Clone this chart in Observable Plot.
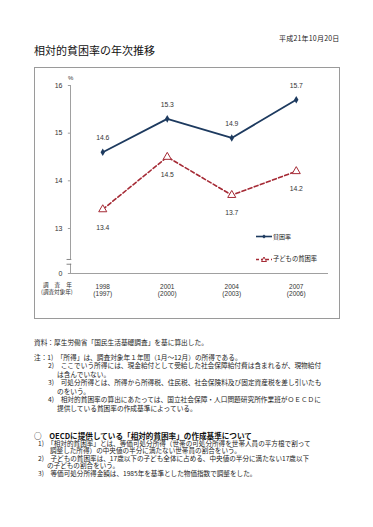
<!DOCTYPE html>
<html lang="ja">
<head>
<meta charset="utf-8">
<script src="https://cdn.jsdelivr.net/npm/d3@7"></script>
<script src="https://cdn.jsdelivr.net/npm/@observablehq/plot@0.6"></script>
<style>
  html, body { margin: 0; padding: 0; background: #fff; }
  #page { position: relative; width: 373px; height: 527px; overflow: hidden; background: #fff;
          font-family: "Noto Sans CJK JP", "Noto Sans", sans-serif; color: #222; }
  .t { position: absolute; white-space: nowrap; line-height: 1; }
  #box { position: absolute; left: 34px; top: 67px; width: 304px; height: 250px; border: 1px solid #9a9a9a; }
  #chart { position: absolute; left: 0; top: 0; }
  .blk { position: absolute; white-space: nowrap; }
  .blk .ind { display: inline-block; }
</style>
</head>
<body>
<div id="page">
  <div class="t" style="left:279px; top:35px; font-size:7px; letter-spacing:0.2px;">平成21年10月20日</div>
  <div class="t" style="left:34px; top:44.5px; font-size:11px; color:#111;">相対的貧困率の年次推移</div>

  <div id="box">
    <div id="chart"></div>
    <div class="t" style="left:33px; top:7px; font-size:6px; font-family:'Liberation Sans',sans-serif; color:#333;">%</div>
    <div class="blk" style="left:6px; top:214px; font-size:5.6px; line-height:7.3px; color:#333;"><span style="letter-spacing:6px; padding-left:2px;">調査年</span><br>(調査対象年)</div>
    <div class="t" id="leg1" style="left:221px; top:165px; font-size:6px; color:#222;">
      <svg width="17" height="7" style="vertical-align:middle;"><line x1="0" y1="3.5" x2="16" y2="3.5" stroke="#1d3a5f" stroke-width="1.6"/><path d="M8,1.5 L10,3.5 L8,5.5 L6,3.5Z" fill="#1d3a5f"/></svg><span style="vertical-align:middle;">貧困率</span>
    </div>
    <div class="t" id="leg2" style="left:221px; top:188px; font-size:6.3px; color:#222;">
      <svg width="17" height="7" style="vertical-align:middle;"><line x1="0" y1="3.5" x2="16" y2="3.5" stroke="#a52a35" stroke-width="1.6" stroke-dasharray="3,2"/><path d="M8,1 L10.5,5.5 L5.5,5.5Z" fill="#fff" stroke="#a52a35" stroke-width="1"/></svg><span style="vertical-align:middle;">子どもの貧困率</span>
    </div>
  </div>

  <div class="t" style="left:34px; top:339px; font-size:6.7px;">資料：厚生労働省「国民生活基礎調査」を基に算出した。</div>

  <div class="blk" style="left:34px; top:353px; font-size:6.7px; line-height:8.45px;">注：1)　「所得」は、調査対象年１年間（1月～12月）の所得である。<br><span class="ind" style="width:14px"></span>2)　ここでいう所得には、現金給付として受給した社会保障給付費は含まれるが、現物給付<br><span class="ind" style="width:23px"></span>は含んでいない。<br><span class="ind" style="width:14px"></span>3)　可処分所得とは、所得から所得税、住民税、社会保険料及び固定資産税を差し引いたも<br><span class="ind" style="width:23px"></span>のをいう。<br><span class="ind" style="width:14px"></span>4)　相対的貧困率の算出にあたっては、国立社会保障・人口問題研究所作業班がＯＥＣＤに<br><span class="ind" style="width:23px"></span>提供している貧困率の作成基準によっている。</div>

  <div class="t" style="left:34px; top:431.5px; font-size:7.6px; line-height:7.6px; font-weight:bold; color:#111;">○　OECDに提供している「相対的貧困率」の作成基準について</div>
  <div class="blk" style="left:38px; top:439.5px; font-size:6.6px; line-height:7.5px;">1)　「相対的貧困率」とは、等価可処分所得（世帯の可処分所得を世帯人員の平方根で割って<br><span class="ind" style="width:12px"></span>調整した所得）の中央値の半分に満たない世帯員の割合をいう。<br>2)　子どもの貧困率は、17歳以下の子ども全体に占める、中央値の半分に満たない17歳以下<br><span class="ind" style="width:9px"></span>の子どもの割合をいう。<br>3)　等価可処分所得金額は、1985年を基準とした物価指数で調整をした。</div>
</div>

<script>
// ---- data ----
const years = [1998, 2001, 2004, 2007];
const surveyYearLabels = ["1998", "2001", "2004", "2007"];
const targetYearLabels = ["(1997)", "(2000)", "(2003)", "(2006)"];
const povertyRate = [14.6, 15.3, 14.9, 15.7];
const childPovertyRate = [13.4, 14.5, 13.7, 14.2];
const yTicks = [0, 13, 14, 15, 16];

// ---- scale setup ----
const xDomain = [1996.5, 2008.5];
const yDomain = [0, 12.15, 16];
const yBreak = [12.25, 12.35];

const rows = years.map((year, i) => ({
  year,
  poverty: povertyRate[i],
  child: childPovertyRate[i],
  survey: surveyYearLabels[i],
  target: targetYearLabels[i]
}));

const navy = "#1d3a5f";
const red = "#a52a35";
const axisColor = "#a0a0a0";
const numFont = "'Liberation Sans', 'DejaVu Sans', sans-serif";

const chart = Plot.plot({
  width: 304,
  height: 250,
  marginLeft: 35,
  marginRight: 11,
  marginTop: 17,
  marginBottom: 45,
  style: { background: "transparent", fontFamily: numFont, overflow: "visible" },
  x: { type: "linear", domain: xDomain, range: [35, 293], axis: null },
  y: { type: "linear", domain: yDomain, range: [205, 200.5, 17], axis: null },
  marks: [
    // y axis line with break
    Plot.ruleX([{ a: 0, b: yBreak[0] }, { a: yBreak[1], b: 16 }], {
      x: xDomain[0], y1: "a", y2: "b", stroke: axisColor, strokeWidth: 1
    }),
    Plot.ruleY(yBreak, { y: d => d, x1: xDomain[0] - 0.16, x2: xDomain[0] + 0.06, stroke: "#777", strokeWidth: 0.9 }),
    // y ticks
    Plot.ruleY(yTicks, { y: d => d, x1: xDomain[0] - 0.1, x2: xDomain[0], stroke: axisColor }),
    // baseline
    Plot.ruleY([0], { x1: xDomain[0], x2: xDomain[1], stroke: axisColor, strokeWidth: 1 }),
    // y tick labels
    Plot.text(yTicks, { y: d => d, x: xDomain[0], dx: -8, textAnchor: "end", text: d => String(d), fontSize: 7, fill: "#333" }),
    // x tick labels
    Plot.text(rows, { x: "year", y: 0, dy: 13, text: "survey", fontSize: 6.5, fill: "#333" }),
    Plot.text(rows, { x: "year", y: 0, dy: 20.5, text: "target", fontSize: 6.5, fill: "#333" }),
    // series
    Plot.line(rows, { x: "year", y: "poverty", stroke: navy, strokeWidth: 1.8 }),
    Plot.dot(rows, { x: "year", y: "poverty", symbol: "diamond", r: 2.3, fill: navy, stroke: "none" }),
    Plot.line(rows, { x: "year", y: "child", stroke: red, strokeWidth: 1.6, strokeDasharray: "4,2.5" }),
    Plot.dot(rows, { x: "year", y: "child", symbol: "triangle", r: 3, fill: "#fff", stroke: red, strokeWidth: 1 }),
    // value labels
    Plot.text(rows, { x: "year", y: "poverty", dy: -14, text: d => d.poverty.toFixed(1), fontSize: 6.8, fill: "#333" }),
    Plot.text(rows, { x: "year", y: "child", dy: 18, text: d => d.child.toFixed(1), fontSize: 6.8, fill: "#333" })
  ]
});

document.getElementById("chart").appendChild(chart);
</script>
</body>
</html>
